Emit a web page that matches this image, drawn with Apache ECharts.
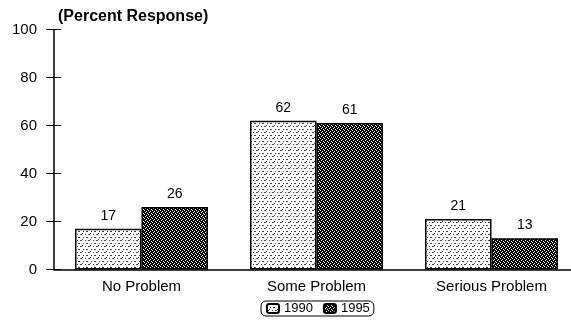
<!DOCTYPE html>
<html>
<head>
<meta charset="utf-8">
<script src="https://cdn.jsdelivr.net/npm/echarts@6/dist/echarts.min.js"></script>
<style>
  html, body { margin: 0; padding: 0; background: #fff; }
  #chart { width: 571px; height: 323px; }
</style>
</head>
<body>
<div id="chart"></div>
<script>
// Survey responses by year
const categories = ['No Problem', 'Some Problem', 'Serious Problem'];
const years = ['1990', '1995'];
const values1990 = [17, 62, 21];
const values1995 = [26, 61, 13];
const yTicks = [0, 20, 40, 60, 80, 100];

// Small repeating fills: light stipple for 1990, dense dark screen for 1995
function makePattern(w, h, bg, fg, cells) {
  const c = document.createElement('canvas');
  c.width = w; c.height = h;
  const g = c.getContext('2d');
  g.fillStyle = bg;
  g.fillRect(0, 0, w, h);
  g.fillStyle = fg;
  cells.forEach(([x, y]) => g.fillRect(x, y, 1, 1));
  return c;
}
const stipple = makePattern(8, 6, '#fff', '#444', [
  [0, 0], [1, 0], [5, 0],
  [3, 3], [6, 3], [7, 3],
  [2, 5]
]);
const screen = makePattern(4, 4, '#000', '#fff', [
  [1, 0], [3, 1], [0, 2], [2, 3]
]);

const chart = echarts.init(document.getElementById('chart'), null, { renderer: 'canvas' });

const textFont = 'Liberation Sans, Arial, Helvetica, sans-serif';

chart.setOption({
  backgroundColor: '#fff',
  animation: false,
  title: {
    text: '(Percent Response)',
    left: 53,
    top: 4,
    textStyle: { fontFamily: textFont, fontSize: 16, fontWeight: 'bold', color: '#000' }
  },
  legend: {
    data: years,
    bottom: 7,
    left: 261,
    itemWidth: 12,
    itemHeight: 9,
    itemGap: 10,
    padding: [1, 4, 1, 5],
    borderColor: '#000',
    borderWidth: 1,
    borderRadius: 5,
    textStyle: { fontFamily: textFont, fontSize: 13, color: '#000' }
  },
  grid: { left: 54, right: -8, top: 29.5, bottom: 53.5, containLabel: false, outerBoundsMode: 'none' },
  xAxis: {
    type: 'category',
    data: categories,
    axisLine: { lineStyle: { color: '#000', width: 1.5 } },
    axisTick: { show: false },
    axisLabel: { fontFamily: textFont, fontSize: 15, color: '#000', margin: 10 }
  },
  yAxis: [
    {
      type: 'value',
      min: yTicks[0],
      max: yTicks[yTicks.length - 1],
      interval: 20,
      axisLine: { show: true, lineStyle: { color: '#000', width: 1.5 } },
      axisTick: { show: true, length: 8, lineStyle: { color: '#000', width: 1 } },
      axisLabel: { fontFamily: textFont, fontSize: 15, color: '#000', margin: 17 },
      splitLine: { show: false }
    },
    {
      type: 'value',
      position: 'left',
      min: yTicks[0],
      max: yTicks[yTicks.length - 1],
      interval: 20,
      axisLine: { show: false },
      axisTick: { show: true, inside: true, length: 7, lineStyle: { color: '#000', width: 1 } },
      axisLabel: { show: false },
      splitLine: { show: false }
    }
  ],
  series: [
    {
      name: years[0],
      type: 'bar',
      data: values1990,
      barGap: '0%',
      barCategoryGap: '24%',
      itemStyle: { color: { image: stipple, repeat: 'repeat' }, borderColor: '#000', borderWidth: 1.5 },
      label: { show: true, position: 'top', distance: 6, fontFamily: textFont, fontSize: 14, color: '#000' }
    },
    {
      name: years[1],
      type: 'bar',
      data: values1995,
      barGap: '0%',
      barCategoryGap: '24%',
      itemStyle: { color: { image: screen, repeat: 'repeat' }, borderColor: '#000', borderWidth: 1.5 },
      label: { show: true, position: 'top', distance: 6, fontFamily: textFont, fontSize: 14, color: '#000' }
    }
  ]
});
</script>
</body>
</html>
